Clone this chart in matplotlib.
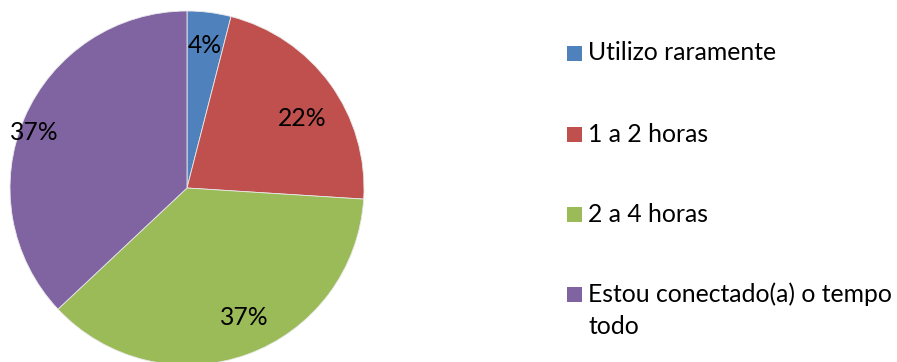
import numpy as np
import matplotlib.pyplot as plt
from matplotlib.patches import Rectangle

labels = ['Utilizo raramente', '1 a 2 horas', '2 a 4 horas',
          'Estou conectado(a) o tempo\ntodo']
values = [4, 22, 37, 37]
colors = ['#4F81BD', '#C0504D', '#9BBB59', '#8064A2']
# radial distance and angular nudge (deg) of each percentage label
label_dist = [0.81, 0.76, 0.80, 0.92]
label_nudge = [0, -4.7, 3.9, 3.6]

plt.rcParams['font.family'] = ['Lato', 'DejaVu Sans']
fs = 17.8

W, H = 897, 362
fig = plt.figure(figsize=(W / 100, H / 100), dpi=100)

# pie centre (187, 188) px from top-left, radius 177 px
cx, cy, r = 187, 188, 177
ax = fig.add_axes([(cx - r) / W, (H - cy - r) / H, 2 * r / W, 2 * r / H])
wedges, _ = ax.pie(values, colors=colors, startangle=90, counterclock=False,
                   radius=1, wedgeprops=dict(edgecolor='#e8e8e8', linewidth=0.6))
ax.set_xlim(-1, 1)
ax.set_ylim(-1, 1)
ax.set_aspect('equal')
ax.axis('off')

for w, v, d, n in zip(wedges, values, label_dist, label_nudge):
    ang = np.deg2rad((w.theta1 + w.theta2) / 2 + n)
    ax.text(d * np.cos(ang), d * np.sin(ang), f'{v}%', ha='center', va='center',
            fontsize=fs, color='black')

# legend drawn by hand
ys = [53, 134, 214, 294]
for lab, c, y in zip(labels, colors, ys):
    fig.patches.append(Rectangle((567 / W, (H - y - 7.5) / H), 15 / W, 15 / H,
                                 facecolor=c, edgecolor='none',
                                 transform=fig.transFigure))
    lines = lab.split('\n')
    for i, line in enumerate(lines):
        fig.text(588 / W, (H - y - 32 * i) / H, line, ha='left', va='center',
                 fontsize=fs, color='black')

fig.savefig('out.png', dpi=100)
